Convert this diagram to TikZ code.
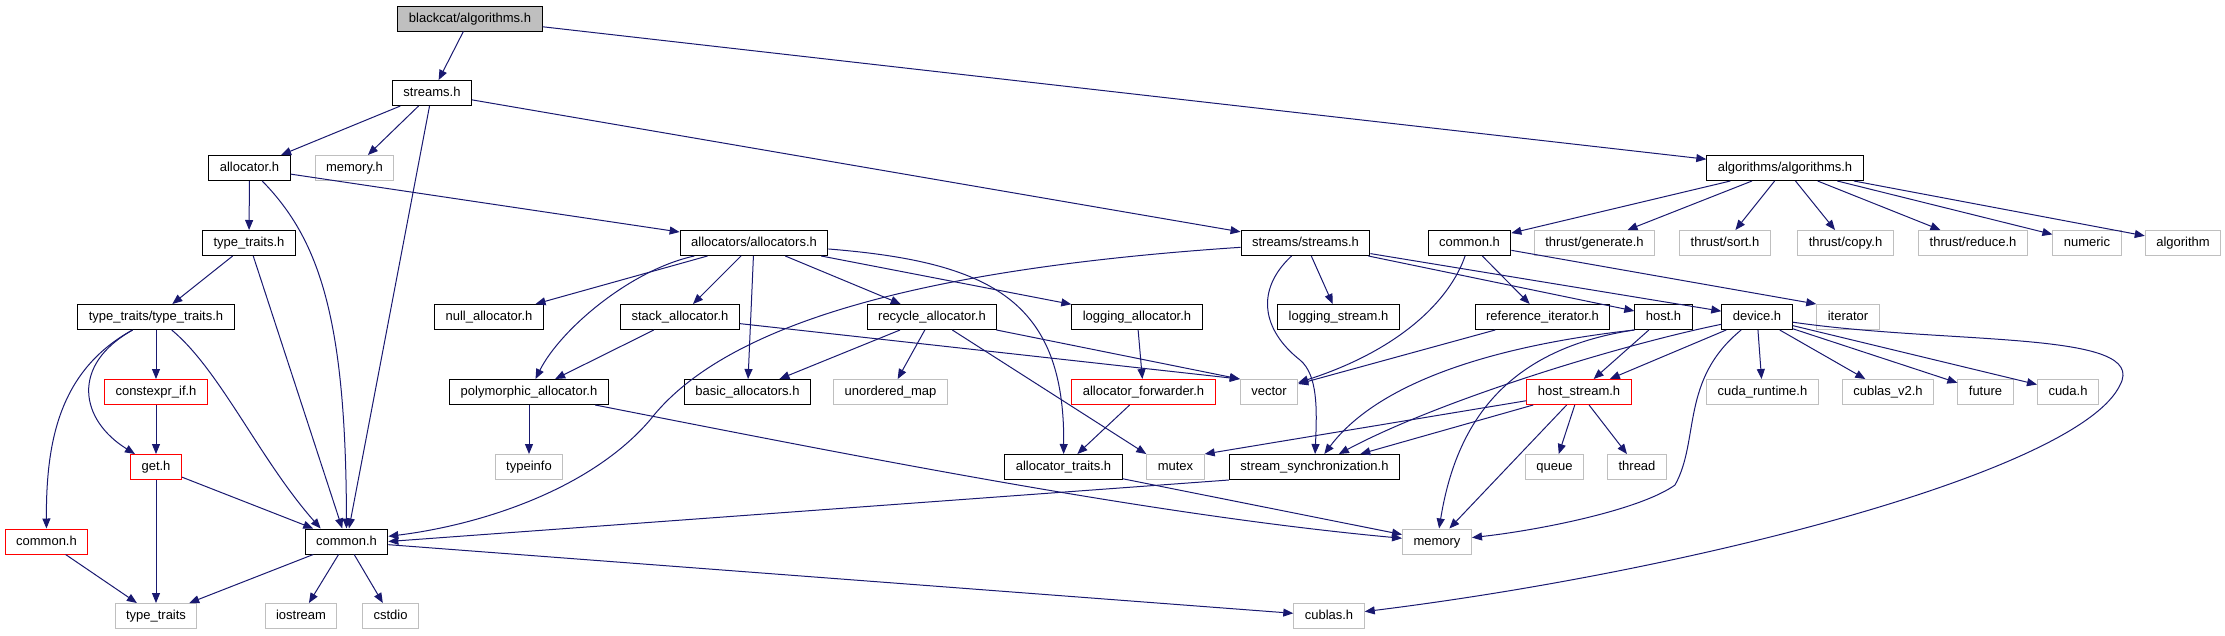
\documentclass[tikz,border=0pt]{standalone}
\usepackage{fontspec}
\setmainfont{Liberation Sans}
\usetikzlibrary{arrows.meta}
\definecolor{edgeC}{HTML}{191970}
\definecolor{sysC}{HTML}{BFBFBF}
\definecolor{rootC}{HTML}{BFBFBF}
\tikzset{
  hdr/.style={draw=black, line width=1pt, rectangle, font=\fontsize{13}{15}\selectfont,
              inner xsep=11pt, minimum height=25pt, text height=10pt, text depth=3pt},
  root/.style={hdr, fill=rootC},
  incl/.style={hdr},
  sys/.style={hdr, draw=sysC},
  trunc/.style={hdr, draw=red},
  dep/.style={draw=edgeC, line width=1pt, -{Triangle[length=10pt,width=8pt]}},
}

\begin{document}
\begin{tikzpicture}[x=1pt,y=-1pt]
\useasboundingbox (0,0) rectangle (2225,635);
\node[root]  (blackcat)    at (470,18.5)   {blackcat/algorithms.h};
\node[incl]  (streams)     at (432,93)     {streams.h};
\node[incl]  (allocator)   at (249.5,168)  {allocator.h};
\node[sys]   (memoryh)     at (354.5,168)  {memory.h};
\node[incl]  (algs)        at (1785,168)   {algorithms/algorithms.h};
\node[incl]  (typetraits)  at (249,243)    {type\_traits.h};
\node[incl]  (allocators)  at (754,243)    {allocators/allocators.h};
\node[incl]  (streamss)    at (1305.5,243) {streams/streams.h};
\node[incl]  (commonr)     at (1469.5,243) {common.h};
\node[sys]   (generate)    at (1594.5,243) {thrust/generate.h};
\node[sys]   (sorth)       at (1725,243)   {thrust/sort.h};
\node[sys]   (copyh)       at (1845.5,243) {thrust/copy.h};
\node[sys]   (reduceh)     at (1973,243)   {thrust/reduce.h};
\node[sys]   (numeric)     at (2087,243)   {numeric};
\node[sys]   (algorithm)   at (2183,243)   {algorithm};
\node[incl]  (tt)          at (156,317)    {type\_traits/type\_traits.h};
\node[incl]  (nullalloc)   at (489,317)    {null\_allocator.h};
\node[incl]  (stackalloc)  at (680,317)    {stack\_allocator.h};
\node[incl]  (recycle)     at (932,317)    {recycle\_allocator.h};
\node[incl]  (logalloc)    at (1137,317)   {logging\_allocator.h};
\node[incl]  (logstream)   at (1338.5,317) {logging\_stream.h};
\node[incl]  (refiter)     at (1542.5,317) {reference\_iterator.h};
\node[incl]  (host)        at (1663.5,317) {host.h};
\node[incl]  (device)      at (1757,317)   {device.h};
\node[sys]   (iterator)    at (1848,317)   {iterator};
\node[trunc] (constexprif) at (156,392)    {constexpr\_if.h};
\node[incl]  (polyalloc)   at (529,392)    {polymorphic\_allocator.h};
\node[incl]  (basicalloc)  at (747.5,392)  {basic\_allocators.h};
\node[sys]   (umap)        at (890.5,392)  {unordered\_map};
\node[trunc] (forwarder)   at (1143.5,392) {allocator\_forwarder.h};
\node[sys]   (vector)      at (1269,392)   {vector};
\node[trunc] (hoststream)  at (1579,392)   {host\_stream.h};
\node[sys]   (cudart)      at (1762.5,392) {cuda\_runtime.h};
\node[sys]   (cublasv2)    at (1888,392)   {cublas\_v2.h};
\node[sys]   (future)      at (1985.5,392) {future};
\node[sys]   (cudah)       at (2068,392)   {cuda.h};
\node[trunc] (geth)        at (156,467)    {get.h};
\node[sys]   (typeinfo)    at (529,467)    {typeinfo};
\node[incl]  (traits)      at (1063.5,467) {allocator\_traits.h};
\node[sys]   (mutex)       at (1175.5,467) {mutex};
\node[incl]  (sync)        at (1314.5,467) {stream\_synchronization.h};
\node[sys]   (queue)       at (1554.5,467) {queue};
\node[sys]   (thread)      at (1637,467)   {thread};
\node[trunc] (commonl)     at (46.5,541.5) {common.h};
\node[incl]  (common)      at (346.5,541.5) {common.h};
\node[sys]   (memory)      at (1437,541.5) {memory};
\node[sys]   (stdtt)       at (156,616)    {type\_traits};
\node[sys]   (iostream)    at (301,616)    {iostream};
\node[sys]   (cstdio)      at (390.5,616)  {cstdio};
\node[sys]   (cublas)      at (1329,616)   {cublas.h};
\draw[dep] (blackcat) -- (streams);
\draw[dep] (blackcat) -- (algs);
\draw[dep] (streams) -- (allocator);
\draw[dep] (streams) -- (memoryh);
\draw[dep] (streams) -- (common);
\draw[dep] (streams) -- (streamss);
\draw[dep] (allocator) -- (typetraits);
\draw[dep] (allocator) .. controls (320,240) and (346,320) .. (common);
\draw[dep] (allocator) -- (allocators);
\draw[dep] (typetraits) -- (tt);
\draw[dep] (typetraits) -- (common);
\draw[dep] (tt) -- (constexprif);
\draw[dep] (tt) .. controls (70,365) and (80,420) .. (geth);
\draw[dep] (tt) .. controls (60,370) and (46,440) .. (commonl);
\draw[dep] (tt) .. controls (220,370) and (260,460) .. ([xshift=16pt]common.north west);
\draw[dep] (constexprif) -- (geth);
\draw[dep] (geth) -- (stdtt);
\draw[dep] (geth) -- (common);
\draw[dep] (commonl) -- (stdtt);
\draw[dep] (common) -- (stdtt);
\draw[dep] (common) -- (iostream);
\draw[dep] (common) -- (cstdio);
\draw[dep] (common) -- (cublas);
\draw[dep] (allocators) -- (nullalloc);
\draw[dep] (allocators) .. controls (630,270) and (560,330) .. (polyalloc);
\draw[dep] (allocators) -- (stackalloc);
\draw[dep] (allocators) -- (basicalloc);
\draw[dep] (allocators) -- (recycle);
\draw[dep] (allocators) -- (logalloc);
\draw[dep] (allocators) .. controls (990,262) and (1065,300) .. (traits);
\draw[dep] (stackalloc) -- (polyalloc);
\draw[dep] (stackalloc) -- (vector.north west);
\draw[dep] (polyalloc) -- (typeinfo);
\draw[dep] (polyalloc) .. controls (850,455) and (1150,515) .. (memory);
\draw[dep] (recycle) -- (basicalloc);
\draw[dep] (recycle) -- (umap);
\draw[dep] (recycle) -- (mutex.north west);
\draw[dep] (recycle) -- (vector.north west);
\draw[dep] (logalloc) -- (forwarder);
\draw[dep] (forwarder) -- (traits);
\draw[dep] (traits) -- (memory);
\draw[dep] (streamss) .. controls (900,270) and (720,330) .. (650,420)
                      .. controls (590,490) and (480,525) .. (common);
\draw[dep] (streamss) .. controls (1255,290) and (1262,330) .. (1300,360)
                      .. controls (1318,375) and (1317,410) .. (sync);
\draw[dep] (streamss) -- (logstream);
\draw[dep] (streamss) -- (host);
\draw[dep] (streamss) -- (device);
\draw[dep] (commonr) .. controls (1450,300) and (1400,350) .. (vector);
\draw[dep] (commonr) -- (refiter);
\draw[dep] (commonr) -- (iterator.north west);
\draw[dep] (refiter) -- (vector);
\draw[dep] (host.south west) .. controls (1500,345) and (1380,380) .. (sync);
\draw[dep] (host.south west) .. controls (1500,350) and (1455,430) .. (memory);
\draw[dep] (host) -- (hoststream);
\draw[dep] (device) .. controls (1620,345) and (1440,400) .. (sync);
\draw[dep] (device) -- (hoststream);
\draw[dep] (device) .. controls (1680,380) and (1700,440) .. (1675,485)
                    .. controls (1640,510) and (1540,530) .. (memory);
\draw[dep] (device) -- (cudart);
\draw[dep] (device) -- (cublasv2);
\draw[dep] (device) -- (future);
\draw[dep] (device) -- (cudah);
\draw[dep] (device) .. controls (1950,345) and (2150,330) .. (2120,385)
                    .. controls (2080,470) and (1700,570) .. (cublas);
\draw[dep] (hoststream) -- (mutex.north east);
\draw[dep] (hoststream) -- (sync);
\draw[dep] (hoststream) -- (memory);
\draw[dep] (hoststream) -- (queue);
\draw[dep] (hoststream) -- (thread);
\draw[dep] (sync.south west) -- (common.east);
\draw[dep] (algs) -- (commonr);
\draw[dep] (algs) -- (generate);
\draw[dep] (algs) -- (sorth);
\draw[dep] (algs) -- (copyh);
\draw[dep] (algs) -- (reduceh);
\draw[dep] (algs) -- (numeric);
\draw[dep] (algs) -- (algorithm);
\end{tikzpicture}
\end{document}
